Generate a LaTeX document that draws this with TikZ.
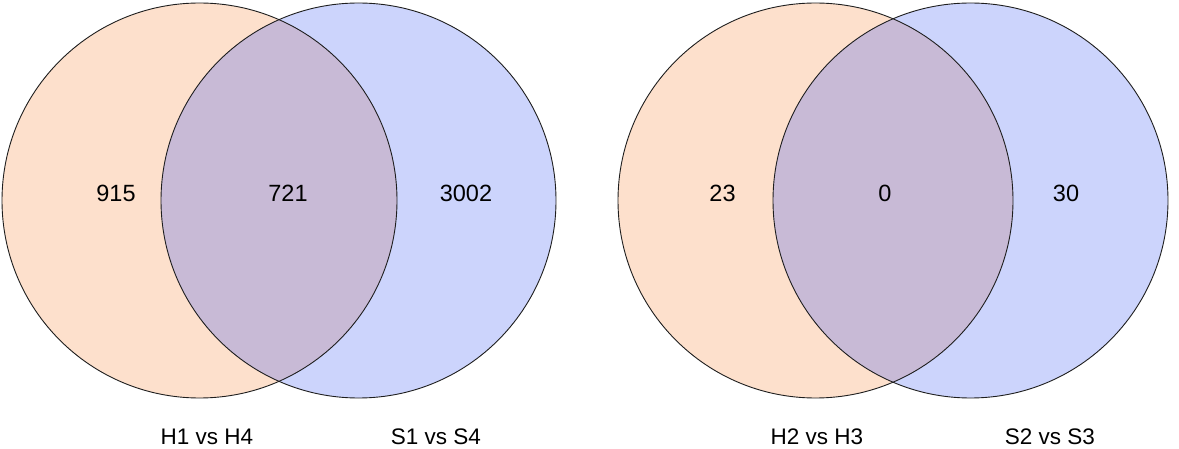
\documentclass[tikz,border=0pt]{standalone}
\usepackage{fontspec}
\setmainfont{Liberation Sans}
\definecolor{peach}{RGB}{253,224,204}
\definecolor{lav}{RGB}{204,212,252}
\definecolor{mix}{RGB}{200,186,214}
\definecolor{edge}{RGB}{30,30,30}
\tikzset{
  num/.style={font=\fontsize{23.5}{27}\selectfont, inner sep=0pt, text=black},
  lab/.style={font=\fontsize{22.5}{26}\selectfont, inner sep=0pt, text=black},
  ring/.style={draw=edge, line width=0.9pt}
}
\begin{document}
\begin{tikzpicture}[x=1pt,y=-1pt]
\useasboundingbox (0,0) rectangle (1179,449);
\def\R{197.5}
% first pair
\coordinate (A) at (199.5,200.5);
\coordinate (B) at (358.5,200.5);
\fill[peach] (A) circle (\R);
\fill[lav] (B) circle (\R);
\begin{scope}
  \clip (A) circle (\R);
  \fill[mix] (B) circle (\R);
\end{scope}
\draw[ring] (A) circle (\R);
\draw[ring] (B) circle (\R);
% second pair
\coordinate (C) at (815.5,200.5);
\coordinate (D) at (970.5,200.5);
\fill[peach] (C) circle (\R);
\fill[lav] (D) circle (\R);
\begin{scope}
  \clip (C) circle (\R);
  \fill[mix] (D) circle (\R);
\end{scope}
\draw[ring] (C) circle (\R);
\draw[ring] (D) circle (\R);
% numbers
\node[num] (n1) at (116,193.5) {915};
\node[num] (n2) at (288,193.5) {721};
\node[num] (n3) at (466,193.5) {3002};
\node[num] (n4) at (722.5,193.5) {23};
\node[num] (n5) at (885,193.5) {0};
\node[num] (n6) at (1066,193.5) {30};
% labels
\node[lab] (l1) at (207,437) {H1 vs H4};
\node[lab] (l2) at (436,437) {S1 vs S4};
\node[lab] (l3) at (817,437) {H2 vs H3};
\node[lab] (l4) at (1050,437) {S2 vs S3};
\end{tikzpicture}
\end{document}
